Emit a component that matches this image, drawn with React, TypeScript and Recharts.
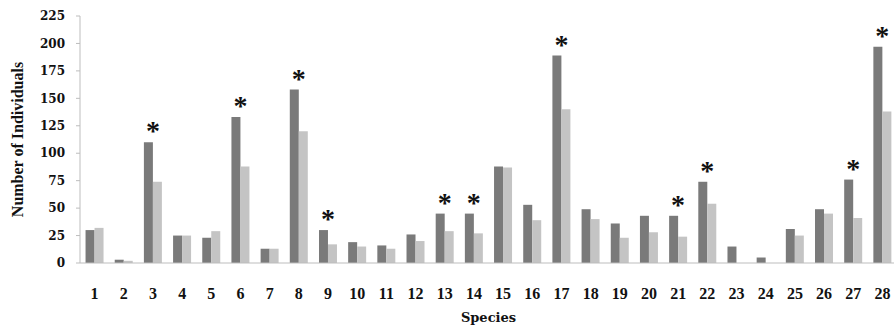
import { BarChart, Bar, XAxis, YAxis, LabelList, Label } from 'recharts';

const species = [
  '1', '2', '3', '4', '5', '6', '7', '8', '9', '10', '11', '12', '13', '14',
  '15', '16', '17', '18', '19', '20', '21', '22', '23', '24', '25', '26', '27', '28',
];
const darkValues = [
  30, 3, 110, 25, 23, 133, 13, 158, 30, 19, 16, 26, 45, 45,
  88, 53, 189, 49, 36, 43, 43, 74, 15, 5, 31, 49, 76, 197,
];
const lightValues = [
  32, 2, 74, 25, 29, 88, 13, 120, 17, 15, 13, 20, 29, 27,
  87, 39, 140, 40, 23, 28, 24, 54, 0, 0, 25, 45, 41, 138,
];
const significant = [
  false, false, true, false, false, true, false, true, true, false, false, false, true, true,
  false, false, true, false, false, false, true, true, false, false, false, false, true, true,
];
const yTicks = [0, 25, 50, 75, 100, 125, 150, 175, 200, 225];

const data = species.map((s, i) => ({
  species: s,
  dark: darkValues[i],
  light: lightValues[i],
  star: significant[i] ? '*' : '',
}));

const serif = '"DejaVu Serif", serif';
const times = '"Liberation Serif", serif';

// asterisk centred on the category, above the dark bar
const renderStar = (props: any) => {
  const { x, y, width, value } = props;
  if (!value) return null;
  return (
    <text
      x={x + width}
      y={y - 2}
      textAnchor="middle"
      fontFamily={times}
      fontWeight="bold"
      fontSize={28}
      fill="#111"
    >
      {value}
    </text>
  );
};

export default function App() {
  return (
    <div
      style={{
        position: 'absolute',
        top: 0,
        left: 0,
        width: 894,
        height: 329,
        overflow: 'hidden',
        background: '#fff',
      }}
    >
      <BarChart
        width={910}
        height={329}
        data={data}
        margin={{ top: 16, right: 13, left: 0, bottom: 26 }}
        barCategoryGap="19%"
        barGap={0}
      >
        <XAxis
          dataKey="species"
          axisLine={{ stroke: '#bdbdbd' }}
          tickLine={false}
          tickMargin={19}
          height={40}
          interval={0}
          tick={{ fontFamily: times, fontWeight: 'bold', fontSize: 16, fill: '#111' }}
        >
          <Label
            value="Species"
            position="bottom"
            offset={10}
            style={{ fontFamily: serif, fontWeight: 'bold', fontSize: 13, fill: '#111' }}
          />
        </XAxis>
        <YAxis
          domain={[0, 225]}
          ticks={yTicks}
          interval={0}
          width={80}
          axisLine={{ stroke: '#bdbdbd' }}
          tickLine={{ stroke: '#bdbdbd' }}
          tickSize={4}
          tickMargin={11}
          tick={{ fontFamily: serif, fontWeight: 'bold', fontSize: 12, fill: '#111' }}
        >
          <Label
            value="Number of Individuals"
            angle={-90}
            position="insideLeft"
            offset={17}
            style={{
              textAnchor: 'middle',
              fontFamily: times,
              fontWeight: 'bold',
              fontSize: 16,
              fill: '#111',
            }}
          />
        </YAxis>
        <Bar dataKey="dark" fill="#7a7a7a" isAnimationActive={false}>
          <LabelList dataKey="star" content={renderStar} />
        </Bar>
        <Bar dataKey="light" fill="#c4c4c4" isAnimationActive={false} />
      </BarChart>
    </div>
  );
}
